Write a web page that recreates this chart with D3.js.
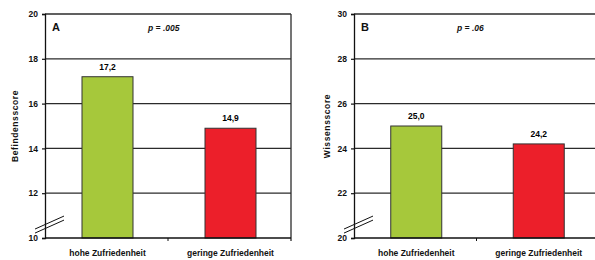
<!DOCTYPE html>
<html>
  <head>
    <meta http-equiv="Content-Type" content="text/html;charset=utf-8" />
    <script src="https://cdn.jsdelivr.net/npm/d3@7"></script>
    <style>
      body { margin: 0; background: #fff; }
      text { font-family: "Liberation Sans", Arial, sans-serif; font-weight: bold; }
    </style>
  </head>
  <body>
    <div id="chart"></div>
    <script>
      var categories = ["hohe Zufriedenheit", "geringe Zufriedenheit"];
      var barColors = ["#a6c83b", "#ec1f2a"];

      var valuesA = [17.2, 14.9];
      var ticksA = [10, 12, 14, 16, 18, 20];
      var valuesB = [25.0, 24.2];
      var ticksB = [20, 22, 24, 26, 28, 30];

      var W = 595, H = 260;
      var svg = d3.select("#chart").append("svg")
        .attr("width", W).attr("height", H);

      var fmt = function(v) { return v.toFixed(1).replace(".", ","); };

      function drawPanel(opts) {
        var x = d3.scaleBand().domain(categories).range([opts.left, opts.right]);
        var y = d3.scaleLinear().domain(opts.domain).range([238, 14]);
        var g = svg.append("g");

        // grid lines
        g.selectAll("line.grid").data(opts.ticks.slice(1)).enter()
          .append("line").attr("class", "grid")
          .attr("x1", opts.left).attr("x2", opts.right)
          .attr("y1", d => y(d)).attr("y2", d => y(d))
          .attr("stroke", "#2b2b2b").attr("stroke-width", 1.3);

        // right border
        g.append("line")
          .attr("x1", opts.right).attr("x2", opts.right)
          .attr("y1", y(opts.domain[1])).attr("y2", y(opts.domain[0]) + 3)
          .attr("stroke", "#2b2b2b").attr("stroke-width", 1.3);

        // bars
        var bw = 51;
        g.selectAll("rect").data(opts.values).enter().append("rect")
          .attr("x", (d, i) => x(categories[i]) + x.bandwidth() / 2 - bw / 2 + 1)
          .attr("width", bw)
          .attr("y", d => y(d))
          .attr("height", d => y(opts.domain[0]) - y(d))
          .attr("fill", (d, i) => barColors[i])
          .attr("stroke", "#333").attr("stroke-width", 1);

        g.selectAll("text.val").data(opts.values).enter().append("text")
          .attr("class", "val")
          .attr("x", (d, i) => x(categories[i]) + x.bandwidth() / 2 + 1)
          .attr("y", d => y(d) - 7)
          .attr("text-anchor", "middle")
          .attr("font-size", 8.5)
          .text(fmt);

        // y axis
        var yAxis = d3.axisLeft(y).tickValues(opts.ticks).tickSize(3).tickPadding(4);
        var gy = g.append("g").attr("transform", "translate(" + opts.left + ",0)").call(yAxis);
        gy.select(".domain").attr("stroke", "#111").attr("stroke-width", 1.3);
        gy.selectAll(".tick line").attr("stroke", "#111").attr("stroke-width", 1.2);
        gy.selectAll("text").attr("font-size", 8.5).attr("fill", "#111")
          .style("font-family", "'Liberation Sans', Arial, sans-serif").style("font-weight", "bold");

        // x axis
        var gx = g.append("g").attr("transform", "translate(0," + y(opts.domain[0]) + ")");
        gx.append("line").attr("x1", opts.left).attr("x2", opts.right)
          .attr("stroke", "#111").attr("stroke-width", 1.3);
        gx.append("line")
          .attr("x1", x(categories[1])).attr("x2", x(categories[1]))
          .attr("y1", 0).attr("y2", 3)
          .attr("stroke", "#111").attr("stroke-width", 1);
        gx.selectAll("text").data(categories).enter().append("text")
          .attr("x", d => x(d) + x.bandwidth() / 2 + 1)
          .attr("y", 18)
          .attr("text-anchor", "middle")
          .attr("font-size", 8.5)
          .attr("fill", "#111")
          .text(d => d);

        // axis break marks
        var b0 = opts.domain[0];
        [[0.4, 0.98], [0.22, 0.8]].forEach(function(b) {
          g.append("line")
            .attr("x1", opts.left - 10).attr("x2", opts.left + 19)
            .attr("y1", y(b0 + b[0])).attr("y2", y(b0 + b[1]))
            .attr("stroke", "#111").attr("stroke-width", 1);
        });

        // y label
        g.append("text")
          .attr("transform", "translate(" + opts.labelX + "," + (y.range()[0] + y.range()[1]) / 2 + ") rotate(-90)")
          .attr("text-anchor", "middle")
          .attr("font-size", 8.5)
          .attr("letter-spacing", 0.6)
          .attr("fill", "#111")
          .text(opts.ylabel);

        // panel letter and p value
        g.append("text")
          .attr("x", opts.left + 7).attr("y", 31)
          .attr("font-size", 11).attr("fill", "#111")
          .text(opts.letter);
        g.append("text")
          .attr("x", opts.left + 103).attr("y", 31)
          .attr("font-size", 8.5).attr("font-style", "italic").attr("fill", "#111")
          .text(opts.p);
      }

      drawPanel({ left: 45, right: 291, domain: [10, 20], ticks: ticksA, values: valuesA,
        ylabel: "Befindensscore", labelX: 18, letter: "A", p: "p = .005" });
      drawPanel({ left: 354, right: 599, domain: [20, 30], ticks: ticksB, values: valuesB,
        ylabel: "Wissensscore", labelX: 330, letter: "B", p: "p = .06" });
    </script>
  </body>
</html>
